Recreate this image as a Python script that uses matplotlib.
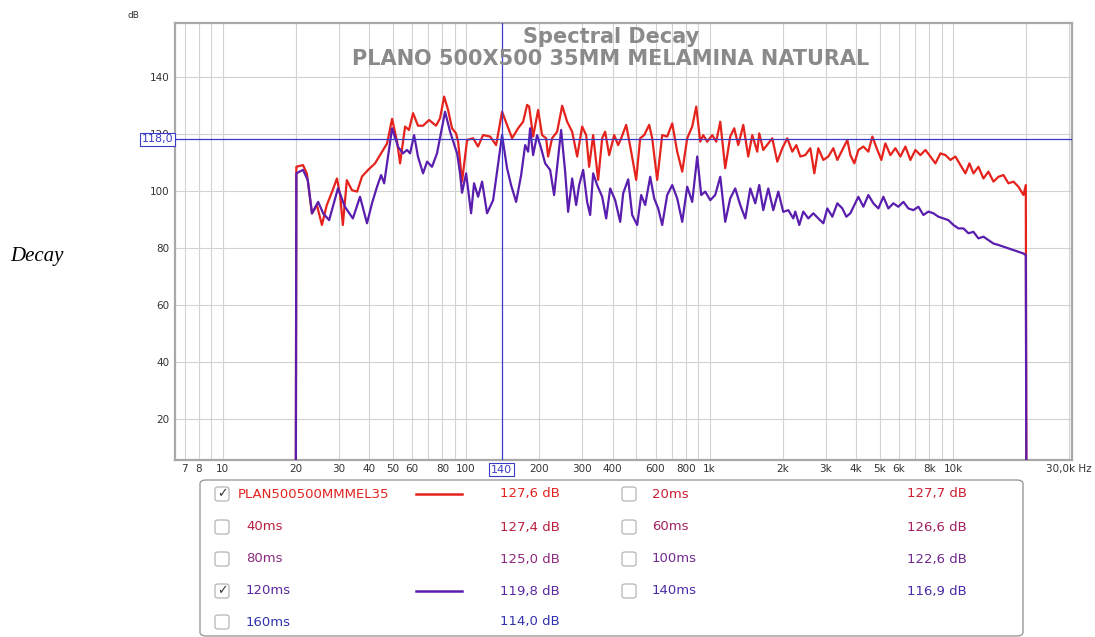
import matplotlib
matplotlib.use('Agg')
import matplotlib.pyplot as plt
from matplotlib.patches import FancyBboxPatch

# ---- data ----
red_freq = [20.0, 20.1, 21.4, 22.2, 23.3, 24.4, 25.6, 26.8, 28.2, 29.5,
            30.4, 31.2, 32.4, 34.0, 35.7, 37.4, 39.6, 42.3, 45.2, 47.4,
            49.7, 52.1, 53.6, 56.2, 58.3, 60.6, 63.5, 66.6, 70.5, 75.3,
            78.2, 81.3, 84.4, 87.6, 91.0, 92.8, 96.3, 101, 107, 112,
            117.5, 125.6, 132.9, 140.6, 147.4, 154.6, 163.6, 171.6, 178.2, 181.6,
            188.6, 197.7, 205.3, 213.3, 217.3, 225.7, 236.7, 248.2, 260.2, 272.8,
            286.0, 299.8, 311.4, 320.3, 332.7, 348.8, 362.3, 372.7, 387.1, 405.9,
            421.5, 433.7, 454.7, 476.7, 499.8, 519.1, 539.1, 565.2, 581.5, 609.6,
            639.2, 670.1, 702.7, 736.7, 772.4, 809.7, 849.0, 881.8, 915.8, 942.2,
            978.4, 1026, 1065, 1107, 1160, 1216, 1263, 1312, 1376, 1442,
            1498, 1570, 1600, 1662, 1743, 1810, 1898, 1990, 2086, 2187,
            2272, 2359, 2473, 2594, 2694, 2797, 2933, 3075, 3224, 3348,
            3511, 3681, 3787, 3933, 4085, 4283, 4490, 4663, 4889, 5078,
            5274, 5529, 5797, 6078, 6372, 6682, 7005, 7345, 7700, 8074,
            8464, 8875, 9305, 9756, 10228, 10724, 11243, 11678, 12129, 12716,
            13332, 13978, 14655, 15365, 16110, 16890, 17709, 18566, 19467, 19900, 20000]
red_db = [0, 108.4, 109, 106, 92, 95, 88, 95, 99.7, 104.3,
          98.5, 88, 103.7, 100.2, 99.7, 105, 107.3, 109.6, 113.7, 116.6,
          125.2, 117.2, 109.6, 122.5, 121.3, 127.2, 122.8, 122.8, 124.8, 122.8,
          125.4, 133, 128.3, 121.9, 120.1, 117.2, 103.2, 117.8, 118.4, 115.5,
          119.5, 119, 116, 127.7, 123.1, 118.4, 121.9, 124.2, 130.1, 129.5,
          119, 128.3, 119.5, 118.4, 112, 118.4, 120.7, 129.8, 124.2, 120.7,
          112, 122.5, 119.5, 108.4, 119.5, 103.8, 118.4, 120.7, 112.5, 119.5,
          116, 118.4, 123.1, 113.7, 103.8, 118.4, 119.5, 123.1, 118.4, 103.8,
          119.5, 119, 123.6, 113.7, 106.7, 118.4, 122.5, 129.5, 117.2, 119.5,
          117.2, 119.5, 117.2, 124.2, 107.9, 119, 121.9, 116, 123.1, 112,
          119.5, 113.7, 120.1, 114.3, 116.6, 118.4, 110.2, 114.9, 118.4, 113.7,
          116, 112, 112.5, 114.9, 106.1, 114.9, 110.8, 112, 114.9, 110.8,
          114.3, 117.8, 112.5, 109.6, 114.3, 115.5, 113.7, 119, 114.3, 110.8,
          116.6, 112.5, 114.9, 112, 115.5, 110.8, 114.3, 112.5, 114.3, 112,
          109.6, 113.1, 112.5, 110.8, 112, 109, 106.1, 109.6, 106.1, 108.4,
          104.3, 106.7, 103.2, 104.9, 105.5, 102.6, 103.2, 101.4, 98.5, 102, 0]

purple_freq = [20.0, 20.1, 21.4, 22.4, 23.3, 24.7, 25.9, 27.4, 29.8, 31.8,
               34.3, 36.7, 39.2, 41.1, 43.1, 44.8, 46.1, 49.7, 52.6, 55.1,
               57.2, 58.9, 61.2, 63.5, 66.6, 69.2, 72.5, 76.0, 82.0, 86.0,
               91.9, 94.5, 96.3, 100.1, 104.9, 107.9, 112.1, 116.4, 122.0, 129.2,
               132.9, 140.6, 147.4, 153.1, 160.6, 168.4, 174.9, 179.9, 183.3, 188.6,
               195.8, 203.4, 211.3, 221.5, 230.0, 245.8, 255.3, 262.6, 272.8, 283.3,
               291.5, 302.7, 314.3, 323.4, 332.7, 345.5, 362.3, 376.3, 390.8, 409.7,
               429.6, 442.0, 463.4, 481.2, 504.5, 524.0, 544.2, 570.6, 592.6, 615.4,
               639.2, 670.1, 702.7, 736.7, 772.4, 809.7, 849.0, 890.1, 924.5, 960.1,
               1007, 1055, 1107, 1160, 1216, 1275, 1337, 1402, 1470, 1541,
               1600, 1662, 1743, 1827, 1916, 2008, 2106, 2208, 2250, 2337,
               2427, 2545, 2668, 2797, 2933, 3046, 3194, 3348, 3511, 3646,
               3787, 3933, 4085, 4283, 4490, 4708, 4936, 5175, 5425, 5688,
               5964, 6253, 6556, 6874, 7207, 7556, 7922, 8306, 8708, 9130,
               9573, 10037, 10523, 11033, 11567, 12129, 12716, 13332, 13978, 14655,
               15365, 16110, 16890, 17709, 18566, 19467, 19900, 20000]
purple_db = [0, 106.1, 107.3, 103.7, 92.1, 96.1, 92.1, 89.7, 100.9, 94.4,
             90.3, 97.9, 88.6, 95.6, 101.4, 105.5, 102.6, 121.9, 115.4, 113.1,
             114.3, 113.1, 119.5, 111.9, 106.1, 110.2, 108.4, 113.1, 127.7, 120.7,
             113.1, 106.1, 99.3, 106.1, 92.1, 102.6, 97.9, 103.2, 92.1, 96.7,
             104.4, 119.5, 107.9, 102, 96.1, 105.5, 116, 113.7, 121.9, 112.5,
             119.5, 114.9, 109.6, 107.3, 98.5, 121.3, 106.7, 92.6, 104.3, 95,
             102, 107.3, 96.1, 91.5, 106.1, 102, 97.9, 90.3, 100.8, 96.7,
             89.1, 99.1, 104, 91.5, 88, 98.5, 95, 104.9, 97.3, 93.8,
             88, 98.5, 102, 97.3, 89.1, 101.4, 96.1, 112, 98.5, 99.7,
             96.7, 98.5, 104.9, 89.1, 97.3, 100.8, 95, 90.3, 100.8, 95.6,
             102, 93.2, 100.8, 93.2, 99.7, 92.6, 93.2, 90.3, 92.7, 88,
             92.7, 90.3, 92.1, 90.3, 88.6, 93.8, 90.9, 95.6, 93.8, 90.9,
             92.1, 95, 97.9, 94.4, 98.5, 95.6, 93.8, 97.9, 93.8, 95.6,
             94.4, 96.1, 93.8, 93.2, 94.4, 91.5, 92.7, 92.1, 90.9, 90.3,
             89.7, 88, 86.8, 86.8, 85.1, 85.6, 83.3, 83.9, 82.7, 81.5,
             81, 80.4, 79.8, 79.2, 78.6, 78, 77.4, 0]

xtick_pos = [7, 8, 10, 20, 30, 40, 50, 60, 80, 100, 200, 300, 400, 600, 800,
             1000, 2000, 3000, 4000, 5000, 6000, 8000, 10000, 30000]
xtick_lab = ['7', '8', '10', '20', '30', '40', '50', '60', '80', '100', '200', '300',
             '400', '600', '800', '1k', '2k', '3k', '4k', '5k', '6k', '8k', '10k',
             '30,0k Hz']
ytick_pos = [20, 40, 60, 80, 100, 120, 140]

cursor_db = 118.0
cursor_hz = 140

# legend table: (name, level, checked, colour), two columns
legend_left = [('PLAN500500MMMEL35', '127,6 dB', True, '#e3231f'),
               ('40ms', '127,4 dB', False, '#b8203f'),
               ('80ms', '125,0 dB', False, '#8c2a7e'),
               ('120ms', '119,8 dB', True, '#5a28a0'),
               ('160ms', '114,0 dB', False, '#3232b0')]
legend_right = [('20ms', '127,7 dB', False, '#cc1f33'),
                ('60ms', '126,6 dB', False, '#a22060'),
                ('100ms', '122,6 dB', False, '#702a90'),
                ('140ms', '116,9 dB', False, '#4a2aa8')]

RED = '#e6221c'
PURPLE = '#5a1eae'
BLUE = '#3a3ac8'

W, H = 1095, 637
fig = plt.figure(figsize=(W / 100, H / 100), dpi=100)


def fx(x):
    return x / W


def fy(y):
    return 1 - y / H


ax = fig.add_axes([fx(175), fy(459.5), (1072 - 175) / W, (459.5 - 23) / H])
ax.set_xscale('log')
ax.set_xlim(6.38, 30800)
ax.set_ylim(5.8, 158.8)

grid_x = [m * 10 ** e for e in range(0, 5) for m in range(1, 10)]
grid_x = [g for g in grid_x if 6.5 < g < 31000]
ax.set_xticks(grid_x, minor=True)
ax.set_xticks(xtick_pos)
ax.set_xticklabels(xtick_lab)
ax.set_yticks(ytick_pos)
ax.set_yticklabels([str(v) for v in ytick_pos])
ax.tick_params(which='both', length=0, labelsize=7.5, colors='#333333')
ax.tick_params(axis='x', pad=3)
ax.tick_params(axis='y', pad=4)
ax.grid(which='both', color='#d2d2d2', lw=0.8)
ax.set_axisbelow(True)
for s in ax.spines.values():
    s.set_color('#a8a8a8')
    s.set_linewidth(1.6)

ax.plot(red_freq, red_db, color=RED, lw=1.6, zorder=3)
ax.plot(purple_freq, purple_db, color=PURPLE, lw=1.6, zorder=4)

ax.axhline(cursor_db, color=BLUE, lw=0.9, zorder=5)
ax.axvline(cursor_hz, color=BLUE, lw=0.9, zorder=5)
ax.text(-0.002, cursor_db, '118,0', transform=ax.get_yaxis_transform(),
        ha='right', va='center', fontsize=8, color=BLUE, zorder=6, clip_on=False,
        bbox=dict(boxstyle='square,pad=0.15', fc='white', ec=BLUE, lw=0.8))
ax.text(cursor_hz, -0.023, '140', transform=ax.get_xaxis_transform(),
        ha='center', va='center', fontsize=8, color=BLUE, zorder=6, clip_on=False,
        bbox=dict(boxstyle='square,pad=0.15', fc='white', ec=BLUE, lw=0.8))

fig.text(fx(133), fy(16), 'dB', fontsize=6.5, color='#333333', ha='center', va='center')
fig.text(fx(611), fy(37), 'Spectral Decay', fontsize=15, fontweight='bold',
         color='#8a8a8a', ha='center', va='center')
fig.text(fx(611), fy(59), 'PLANO 500X500 35MM MELAMINA NATURAL', fontsize=15,
         fontweight='bold', color='#8a8a8a', ha='center', va='center')
fig.text(fx(10), fy(257), 'Decay', family='Liberation Serif', style='italic',
         fontsize=15, ha='left', va='center')

# legend panel
panel = FancyBboxPatch((fx(200), fy(636)), (1023 - 200) / W, (636 - 480) / H,
                       boxstyle='round,pad=0,rounding_size=0.006',
                       transform=fig.transFigure, fc='white', ec='#9a9a9a', lw=1)
fig.patches.append(panel)

row_y = [494, 527, 559, 591, 622]


def legend_row(y, name, level, checked, col, box_x, name_x, val_x, first=False):
    cb = FancyBboxPatch((fx(box_x), fy(y + 7)), 14 / W, 14 / H,
                        boxstyle='round,pad=0,rounding_size=0.003',
                        transform=fig.transFigure, fc='white', ec='#b5b5b5', lw=0.9)
    fig.patches.append(cb)
    if checked:
        fig.text(fx(box_x + 7), fy(y), '\u2713', fontsize=9, color='#333333',
                 ha='center', va='center')
        fig.add_artist(plt.Line2D([fx(416), fx(462)], [fy(y), fy(y)],
                                  color=RED if first else PURPLE, lw=1.8))
    fig.text(fx(name_x), fy(y), name, fontsize=9.5, color=col, ha='left', va='center')
    fig.text(fx(val_x), fy(y), level, fontsize=9.5, color=col, ha='left', va='center')


for i, (name, level, checked, col) in enumerate(legend_left):
    legend_row(row_y[i], name, level, checked, col, 215,
               238 if i == 0 else 246, 500, first=(i == 0))
for i, (name, level, checked, col) in enumerate(legend_right):
    legend_row(row_y[i], name, level, checked, col, 622, 652, 907)

fig.savefig('out.png', dpi=100)
